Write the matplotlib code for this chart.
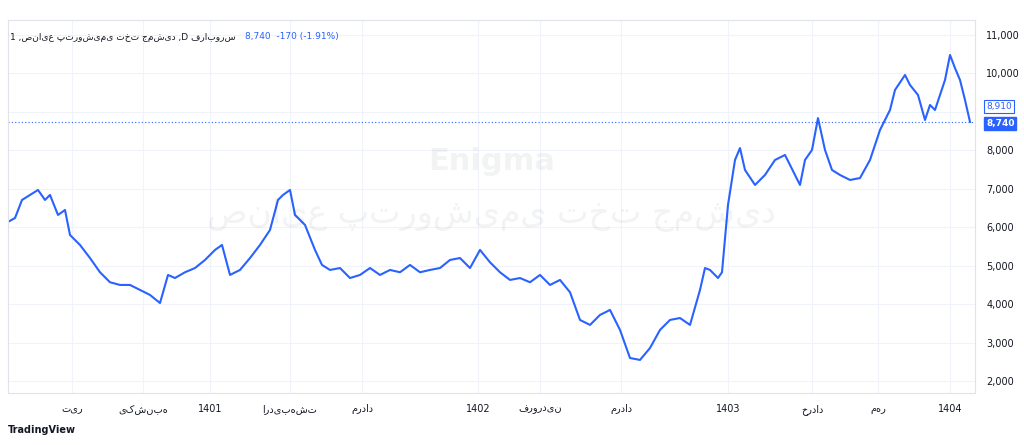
import matplotlib
matplotlib.use("Agg")
import matplotlib.pyplot as plt

days = [8,15,22,30,38,45,50,58,65,70,80,90,100,110,120,130,140,150,160,168,175,185,195,205,215,222,230,240,250,260,270,278,283,290,295,305,315,322,330,340,350,360,370,380,390,400,410,420,430,440,450,460,470,480,490,500,510,520,530,540,550,560,570,580,590,600,610,620,630,640,650,660,670,680,690,700,705,710,718,722,728,735,740,745,755,765,775,785,795,800,805,812,818,825,832,840,850,860,870,880,890,895,905,910,918,925,930,935,945,950,955,960,965,970]
ypix = [222,218,200,195,190,200,195,215,210,235,245,258,272,282,285,285,290,295,303,275,278,272,268,260,250,245,275,270,258,245,230,200,195,190,215,225,250,265,270,268,278,275,268,275,270,272,265,272,270,268,260,258,268,250,262,272,280,278,282,275,285,280,292,320,325,315,310,330,358,360,348,330,320,318,325,290,268,270,278,272,205,160,148,170,185,175,160,155,175,185,160,150,118,150,170,175,180,178,160,130,110,90,75,85,95,120,105,110,80,55,68,80,100,122]
prices = [round(11000 - (p - 35) / 38.44 * 1000, -1) for p in ypix]

tick_pos = [72,143,210,290,362,478,540,621,728,812,878,950]
tick_labels = ["تیر","یکشنبه","1401","اردیبهشت","مرداد","1402","فروردین","مرداد","1403","خرداد","مهر","1404"]
yticks = [2000,3000,4000,5000,6000,7000,8000,9000,10000,11000]
last_price = 8740
prev_close = 8910

plt.rcParams['font.family'] = ['DejaVu Sans']
fig = plt.figure(figsize=(10.24, 4.45), dpi=100)
ax = fig.add_axes([8/1024, 52/445, 967/1024, 373/445])
blue = "#2962ff"
ax.plot(days, prices, color=blue, lw=1.5)
ax.set_xlim(8, 975)
ax.set_ylim(1690, 11390)
ax.set_xticks(tick_pos)
ax.set_xticklabels(tick_labels, fontsize=7, color="#131722")
ax.set_yticks(yticks)
ax.set_yticklabels(["" if v == 9000 else f"{v:,}" for v in yticks], fontsize=7, color="#131722")
ax.yaxis.tick_right()
ax.tick_params(length=0, pad=8)
ax.grid(color="#f0f3fa", lw=0.8)
for s in ax.spines.values():
    s.set_color("#e0e3eb")
ax.axhline(last_price, color=blue, lw=0.8, ls=(0, (1, 2)))
ax.annotate(f"{prev_close:,}", xy=(1.0, last_price), xycoords=ax.get_yaxis_transform(),
            xytext=(8, 11), textcoords="offset points", fontsize=6.5, color=blue, va="center",
            bbox=dict(boxstyle="square,pad=0.2", fc="white", ec=blue, lw=0.8))
ax.annotate(f"{last_price:,}", xy=(1.0, last_price), xycoords=ax.get_yaxis_transform(),
            xytext=(8, -1), textcoords="offset points", fontsize=6.5, color="white", va="center",
            fontweight="bold", bbox=dict(boxstyle="square,pad=0.2", fc=blue, ec=blue))
ax.text(0.5, 0.62, "Enigma", transform=ax.transAxes, fontsize=22, color="#131722", alpha=0.05,
        ha="center", va="center", fontweight="bold")
ax.text(0.5, 0.48, "صنایع پتروشیمی تخت جمشید", transform=ax.transAxes, fontsize=24, color="#131722",
        alpha=0.05, ha="center", va="center")
fig.text(10/1024, 1-37/445, "1 ,صنایع پتروشیمی تخت جمشید ,D فرابورس", fontsize=6.5, color="#131722", va="center")
fig.text(245/1024, 1-37/445, "8,740  -170 (-1.91%)", fontsize=6.5, color=blue, va="center")
fig.text(8/1024, 1-430/445, "TradingView", fontsize=7, color="#131722", va="center", fontweight="bold")
fig.savefig("out.png", dpi=100, facecolor="white")
